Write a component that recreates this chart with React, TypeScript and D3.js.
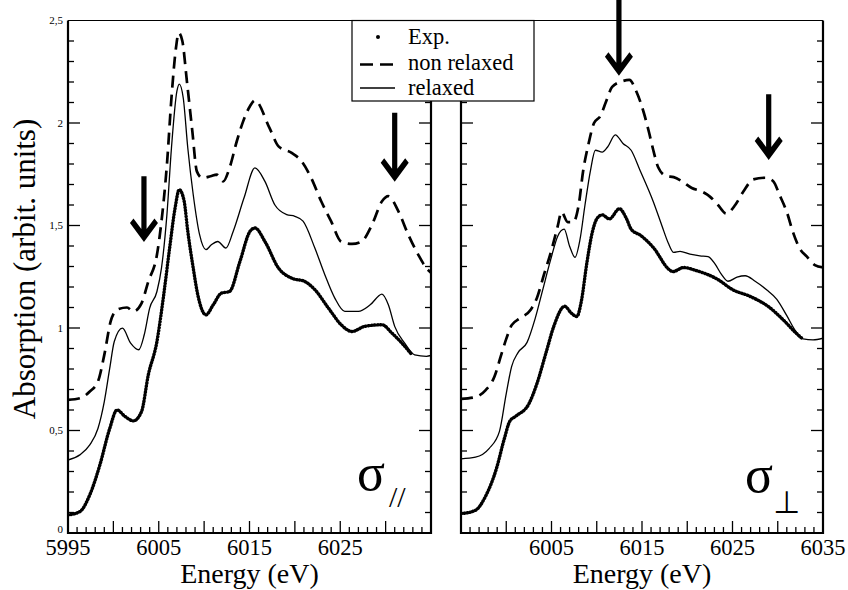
import React from "react";
import * as d3 from "d3";

// ---------- data ----------
const xDomain = [5995, 6035];
const yDomain = [0, 2.5];
const yTickLabels = ["0", "0,5", "1", "1,5", "2", "2,5"];
const yTickValues = [0, 0.5, 1, 1.5, 2, 2.5];
const leftXTickLabels = [5995, 6005, 6015, 6025];
const rightXTickLabels = [6005, 6015, 6025, 6035];
const legendLabels = ["Exp.", "non relaxed", "relaxed"];

// left panel (sigma //)
const leftExpE = [5995, 5996.3, 5997.4, 5998.5, 5999.6, 6000.4, 6001.3, 6002.2, 6003.1, 6003.85, 6004.8, 6005.5, 6006.2, 6006.8, 6007.26, 6007.8, 6008.2, 6008.8, 6009.3, 6010.2, 6011.0, 6011.9, 6012.8, 6013.95, 6015.05, 6015.6, 6016.7, 6018.2, 6019.65, 6021.1, 6022.2, 6023.7, 6025.1, 6026.3, 6027.7, 6029.6, 6030.7, 6031.8, 6032.9];
const leftExpV = [0.088, 0.104, 0.186, 0.33, 0.51, 0.6, 0.568, 0.547, 0.592, 0.771, 0.934, 1.146, 1.39, 1.585, 1.675, 1.618, 1.471, 1.292, 1.162, 1.064, 1.113, 1.17, 1.178, 1.325, 1.471, 1.488, 1.422, 1.292, 1.243, 1.227, 1.187, 1.097, 1.016, 0.983, 1.008, 1.016, 0.975, 0.926, 0.869];

const leftRelE = [5995, 5996.3, 5997.4, 5998.3, 5999.0, 5999.6, 6000.1, 6001.0, 6001.9, 6002.8, 6003.4, 6004.0, 6004.8, 6005.3, 6005.9, 6006.4, 6007.0, 6007.26, 6007.7, 6008.2, 6008.8, 6009.5, 6010.2, 6010.8, 6011.5, 6012.4, 6013.2, 6014.4, 6015.6, 6016.7, 6017.8, 6019.1, 6020.0, 6020.9, 6022.2, 6023.3, 6024.4, 6025.5, 6027.0, 6028.3, 6029.6, 6030.3, 6031.0, 6032.1, 6033.2, 6034.5, 6035];
const leftRelV = [0.356, 0.381, 0.43, 0.51, 0.641, 0.804, 0.934, 0.999, 0.926, 0.894, 0.967, 1.097, 1.178, 1.292, 1.553, 1.878, 2.155, 2.19, 2.122, 1.878, 1.65, 1.455, 1.382, 1.406, 1.422, 1.39, 1.471, 1.635, 1.781, 1.715, 1.6, 1.553, 1.545, 1.521, 1.39, 1.26, 1.146, 1.081, 1.081, 1.113, 1.165, 1.113, 1.008, 0.926, 0.869, 0.862, 0.866];

const leftNonE = [5995, 5996.3, 5997.4, 5998.3, 5999.0, 5999.7, 6000.4, 6001.5, 6002.2, 6003.1, 6003.85, 6004.8, 6005.3, 6005.9, 6006.4, 6006.9, 6007.2, 6007.6, 6008.1, 6008.7, 6009.2, 6009.8, 6010.7, 6011.4, 6012.1, 6012.8, 6013.6, 6014.3, 6015.05, 6015.6, 6017.2, 6018.2, 6019.65, 6020.75, 6021.8, 6022.9, 6024.0, 6025.1, 6026.3, 6027.35, 6028.5, 6029.6, 6030.3, 6031.4, 6032.5, 6033.6, 6034.5, 6035];
const leftNonV = [0.649, 0.657, 0.69, 0.739, 0.869, 1.032, 1.089, 1.1, 1.081, 1.12, 1.227, 1.357, 1.52, 1.797, 2.122, 2.367, 2.44, 2.4, 2.204, 1.96, 1.764, 1.732, 1.74, 1.748, 1.715, 1.781, 1.911, 2.008, 2.082, 2.11, 1.976, 1.886, 1.854, 1.813, 1.732, 1.618, 1.52, 1.422, 1.41, 1.422, 1.504, 1.618, 1.643, 1.57, 1.455, 1.357, 1.292, 1.27];

// right panel (sigma perp)
const rightExpE = [5995, 5996.6, 5997.7, 5998.9, 5999.8, 6000.4, 6001.1, 6002.5, 6003.4, 6004.4, 6005.3, 6006.45, 6007.2, 6007.8, 6008.3, 6008.9, 6009.5, 6010.0, 6010.6, 6011.4, 6012.5, 6013.3, 6013.8, 6014.9, 6016.3, 6018.0, 6018.4, 6019.6, 6021.0, 6023.25, 6025.1, 6026.9, 6029.1, 6030.6, 6032.1, 6032.8];
const rightExpV = [0.094, 0.111, 0.178, 0.312, 0.462, 0.546, 0.571, 0.63, 0.73, 0.88, 1.014, 1.106, 1.072, 1.056, 1.131, 1.315, 1.465, 1.532, 1.552, 1.532, 1.582, 1.532, 1.482, 1.45, 1.39, 1.285, 1.275, 1.295, 1.28, 1.24, 1.185, 1.155, 1.1, 1.04, 0.972, 0.945];

const rightRelE = [5995, 5996.6, 5998.1, 5999.25, 6000.0, 6000.6, 6001.3, 6002.3, 6003.2, 6004.0, 6004.9, 6005.7, 6006.4, 6007.0, 6007.6, 6008.15, 6008.7, 6009.3, 6009.85, 6010.6, 6011.2, 6012.05, 6012.9, 6013.8, 6014.8, 6016.25, 6017.2, 6017.9, 6018.5, 6019.2, 6020.3, 6021.4, 6022.3, 6023.1, 6023.8, 6024.5, 6025.5, 6026.4, 6027.5, 6028.8, 6029.9, 6031.0, 6031.9, 6032.8, 6033.9, 6035];
const rightRelV = [0.362, 0.37, 0.412, 0.496, 0.68, 0.813, 0.88, 0.93, 1.047, 1.181, 1.332, 1.449, 1.482, 1.399, 1.345, 1.432, 1.6, 1.767, 1.867, 1.858, 1.883, 1.942, 1.9, 1.867, 1.767, 1.616, 1.499, 1.415, 1.369, 1.374, 1.36, 1.352, 1.348, 1.31, 1.26, 1.228, 1.248, 1.255, 1.228, 1.185, 1.14, 1.06, 0.99, 0.947, 0.942, 0.95];

const rightNonE = [5995, 5996.6, 5997.7, 5998.7, 5999.4, 6000.0, 6000.6, 6001.5, 6002.7, 6003.4, 6004.2, 6004.9, 6005.7, 6006.1, 6006.8, 6007.4, 6008.0, 6008.5, 6009.1, 6009.7, 6010.4, 6011.0, 6011.7, 6012.9, 6013.6, 6014.4, 6015.2, 6015.8, 6016.25, 6016.8, 6017.7, 6018.5, 6019.4, 6020.5, 6021.6, 6022.5, 6023.4, 6024.3, 6025.3, 6026.2, 6027.3, 6028.6, 6029.5, 6030.2, 6031.0, 6031.7, 6032.4, 6033.2, 6034.1, 6035];
const rightNonV = [0.654, 0.663, 0.696, 0.763, 0.863, 0.947, 1.014, 1.047, 1.089, 1.148, 1.265, 1.365, 1.499, 1.566, 1.516, 1.516, 1.599, 1.767, 1.9, 2.0, 2.034, 2.101, 2.176, 2.205, 2.21, 2.151, 2.05, 1.95, 1.867, 1.783, 1.741, 1.736, 1.716, 1.683, 1.666, 1.641, 1.6, 1.558, 1.6, 1.666, 1.725, 1.733, 1.716, 1.649, 1.566, 1.465, 1.39, 1.349, 1.307, 1.295];

// arrows: energy, tip value, tail value
const leftArrows = [
  { e: 6003.37, tip: 1.42, tail: 1.74 },
  { e: 6031.0, tip: 1.714, tail: 2.05 },
];
const rightArrows = [
  { e: 6012.45, tip: 2.23, tail: 2.62 },
  { e: 6029.0, tip: 1.82, tail: 2.14 },
];

const SERIF = '"Liberation Serif", "DejaVu Serif", "Times New Roman", serif';
const TXT = { fontFamily: SERIF };

function arrowPath(x: number, tipY: number, tailY: number) {
  const pts: [number, number][] = [
    [0, 0],
    [-14, -19],
    [-10.5, -23.5],
    [-2.6, -13],
    [-2.6, tailY - tipY],
    [2.6, tailY - tipY],
    [2.6, -13],
    [10.5, -23.5],
    [14, -19],
  ];
  return "M" + pts.map((p) => `${x + p[0]},${tipY + p[1]}`).join("L") + "Z";
}

export default function App() {
  const y = d3.scaleLinear().domain(yDomain).range([533, 20.5]);
  const panels = [
    {
      id: "L",
      x: d3.scaleLinear().domain(xDomain).range([68, 431]),
      exp: [leftExpE, leftExpV],
      rel: [leftRelE, leftRelV],
      non: [leftNonE, leftNonV],
      xLabels: leftXTickLabels,
      arrows: leftArrows,
    },
    {
      id: "R",
      x: d3.scaleLinear().domain(xDomain).range([461, 823]),
      exp: [rightExpE, rightExpV],
      rel: [rightRelE, rightRelV],
      non: [rightNonE, rightNonV],
      xLabels: rightXTickLabels,
      arrows: rightArrows,
    },
  ];

  const mkLine = (x: d3.ScaleLinear<number, number>, es: number[], vs: number[]) =>
    d3
      .line<number>()
      .x((_, i) => x(es[i]))
      .y((_, i) => y(vs[i]))
      .curve(d3.curveMonotoneX)(es) || "";

  const xMinor = d3.range(5996, 6035, 1);
  const yMinor = d3.range(1, 25).map((i) => i / 10);

  return (
    <svg
      width={848}
      height={590}
      style={{ position: "absolute", left: 0, top: 0, background: "#fff", fontFamily: SERIF }}
    >
      <rect x={0} y={0} width={848} height={590} fill="#fff" />
      <defs>
        {panels.map((p) => (
          <clipPath id={"clip" + p.id} key={p.id}>
            <rect x={p.x.range()[0]} y={y(2.5)} width={p.x.range()[1] - p.x.range()[0]} height={y(0) - y(2.5)} />
          </clipPath>
        ))}
      </defs>

      {panels.map((p) => {
        const [x0, x1] = p.x.range();
        const yb = y(0);
        const yt = y(2.5);
        return (
          <g key={p.id}>
            {xMinor.map((e) => {
              const major = (e - 5995) % 5 === 0;
              const len = major ? 12 : 6;
              return <line key={"xt" + e} x1={p.x(e)} x2={p.x(e)} y1={yb} y2={yb - len} stroke="#000" strokeWidth={1.3} />;
            })}
            {yMinor.map((v) => {
              const major = Math.abs(v * 2 - Math.round(v * 2)) < 1e-6;
              const len = major ? 12 : 6;
              return (
                <g key={"yt" + v}>
                  <line x1={x0} x2={x0 + len} y1={y(v)} y2={y(v)} stroke="#000" strokeWidth={1.3} />
                  <line x1={x1} x2={x1 - len} y1={y(v)} y2={y(v)} stroke="#000" strokeWidth={1.3} />
                </g>
              );
            })}
            <g clipPath={`url(#clip${p.id})`}>
              <path d={mkLine(p.x, p.non[0], p.non[1])} fill="none" stroke="#000" strokeWidth={2.7} strokeDasharray="12,7" />
              <path d={mkLine(p.x, p.rel[0], p.rel[1])} fill="none" stroke="#000" strokeWidth={1.3} />
              <path d={mkLine(p.x, p.exp[0], p.exp[1])} fill="none" stroke="#000" strokeWidth={3.4} strokeDasharray="0.6,2.4" strokeLinecap="round" />
            </g>
            <line x1={x0} x2={x1} y1={yt} y2={yt} stroke="#000" strokeWidth={1.2} />
            <line x1={x0} x2={x0} y1={yt} y2={yb + 1} stroke="#000" strokeWidth={2.2} />
            <line x1={x1} x2={x1} y1={yt} y2={yb + 1} stroke="#000" strokeWidth={2.2} />
            <line x1={x0 - 1} x2={x1 + 1} y1={yb} y2={yb} stroke="#000" strokeWidth={2.2} />
            {p.xLabels.map((e) => (
              <text key={"xl" + e} x={p.x(e)} y={555} textAnchor="middle" fontSize={22.5} style={TXT}>
                {e}
              </text>
            ))}
            <text x={(x0 + x1) / 2} y={583} textAnchor="middle" fontSize={28} style={TXT}>
              Energy (eV)
            </text>
            {p.arrows.map((a, i) => (
              <path key={"ar" + i} d={arrowPath(p.x(a.e), y(a.tip), y(a.tail))} fill="#000" />
            ))}
          </g>
        );
      })}

      {yTickValues.map((v, i) => (
        <text key={"yl" + v} x={63} y={y(v) - (v === 0 ? 4 : 0)} dy="0.35em" textAnchor="end" fontSize={11} style={TXT}>
          {yTickLabels[i]}
        </text>
      ))}
      <text transform={`translate(35,269) rotate(-90)`} textAnchor="middle" fontSize={31} style={TXT}>
        Absorption (arbit. units)
      </text>

      <text x={357} y={490} fontSize={52} style={TXT}>σ</text>
      <text x={389} y={507} fontSize={30} style={TXT}>//</text>
      <text x={745} y={492} fontSize={52} style={TXT}>σ</text>
      <text x={773} y={513} fontSize={31} style={{ fontFamily: '"DejaVu Sans", sans-serif' }}>⊥</text>

      <g>
        <rect x={352} y={20.5} width={182} height={80.5} fill="#fff" stroke="#000" strokeWidth={1.2} />
        <circle cx={378} cy={37} r={2} fill="#000" />
        <line x1={360} x2={395} y1={64.5} y2={64.5} stroke="#000" strokeWidth={2.7} strokeDasharray="13,7" />
        <line x1={360} x2={395} y1={88} y2={88} stroke="#000" strokeWidth={1.3} />
        <text x={408} y={44} fontSize={22.5} style={TXT}>{legendLabels[0]}</text>
        <text x={408} y={69.5} fontSize={22.5} style={TXT}>{legendLabels[1]}</text>
        <text x={408} y={95} fontSize={22.5} style={TXT}>{legendLabels[2]}</text>
      </g>
    </svg>
  );
}
